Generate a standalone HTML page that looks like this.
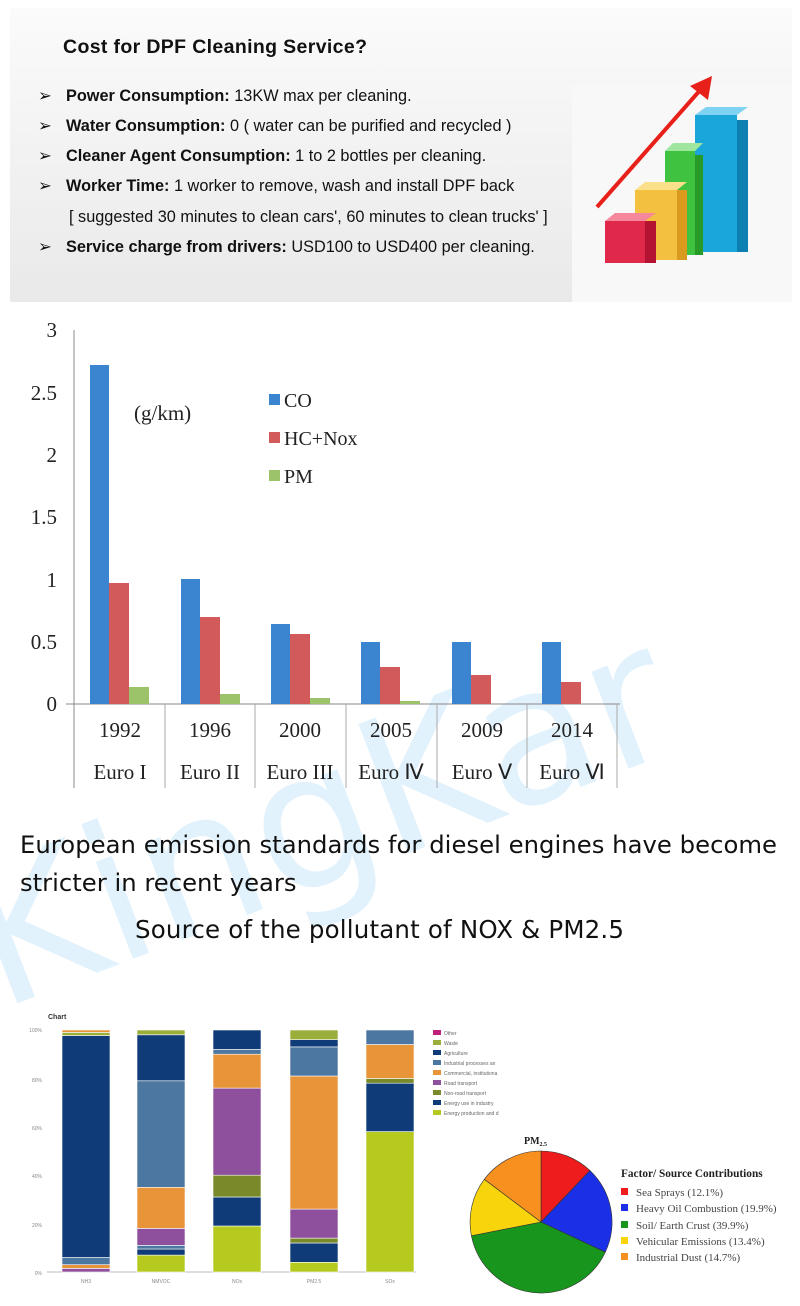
<!DOCTYPE html>
<html><head><meta charset="utf-8"><style>
html,body{margin:0;padding:0;background:#fff;}
svg{display:block;}
.s{font-family:"Liberation Sans",Arial,sans-serif;}
.r{font-family:"Liberation Serif","Times New Roman",serif;}
.d{font-family:"DejaVu Sans",sans-serif;}
</style></head><body>
<svg width="800" height="1306" viewBox="0 0 800 1306" xmlns="http://www.w3.org/2000/svg">
<defs>
<linearGradient id="bg" x1="0" y1="0" x2="0" y2="1"><stop offset="0" stop-color="#fbfbfb"/><stop offset="1" stop-color="#e9e9e9"/></linearGradient>
</defs>
<rect x="0" y="0" width="800" height="1306" fill="#fff"/>
<rect x="10" y="8" width="782" height="294" fill="url(#bg)"/>
<rect x="572" y="85" width="220" height="217" fill="#f8f8f8"/>
<text class="s" x="63" y="53" font-size="19.5" font-weight="bold" fill="#111" textLength="304">Cost for DPF Cleaning Service?</text>
<g class="s" font-size="16.3" fill="#111">
<text x="38" y="101">➢</text><text x="66" y="101"><tspan font-weight="bold">Power Consumption:</tspan> 13KW max per cleaning.</text>
<text x="38" y="131">➢</text><text x="66" y="131"><tspan font-weight="bold">Water Consumption:</tspan>  0 ( water can be purified and recycled )</text>
<text x="38" y="161">➢</text><text x="66" y="161"><tspan font-weight="bold">Cleaner Agent Consumption:</tspan> 1 to 2 bottles per cleaning.</text>
<text x="38" y="191">➢</text><text x="66" y="191"><tspan font-weight="bold">Worker Time:</tspan> 1 worker to remove, wash and install DPF back</text>
<text x="69" y="222">[ suggested 30 minutes to clean cars', 60 minutes to clean trucks' ]</text>
<text x="38" y="252">➢</text><text x="66" y="252"><tspan font-weight="bold">Service charge from drivers:</tspan> USD100 to USD400 per cleaning.</text>
</g>
<g>
<rect x="695" y="115" width="42" height="137" fill="#1aa6d8"/><rect x="737" y="120" width="11" height="132" fill="#0d7fb0"/><polygon points="695,115 706,107 748,107 737,115" fill="#7fd3f2"/>
<rect x="665" y="151" width="30" height="104" fill="#3fc23f"/><rect x="695" y="155" width="8" height="100" fill="#279a27"/><polygon points="665,151 673,143 703,143 695,151" fill="#9fe79f"/>
<rect x="635" y="190" width="42" height="70" fill="#f4c040"/><rect x="677" y="190" width="10" height="70" fill="#d99a1e"/><polygon points="635,190 645,182 687,182 677,190" fill="#fbe08c"/>
<rect x="605" y="221" width="40" height="42" fill="#e0284a"/><rect x="645" y="221" width="11" height="42" fill="#b41432"/><polygon points="605,221 615,213 656,213 645,221" fill="#f5889c"/>
<line x1="597" y1="207" x2="702" y2="88" stroke="#e8201a" stroke-width="4"/>
<polygon points="712,76 708,100 690,86" fill="#e8201a"/>
</g>
<text class="d" x="0" y="1010" font-size="190" fill="#e2f2fc" transform="rotate(-21 0 1010)">KingKar</text>
<g class="r" font-size="21" fill="#222" text-anchor="end">
<text x="57" y="337">3</text><text x="57" y="400">2.5</text><text x="57" y="462">2</text><text x="57" y="524">1.5</text><text x="57" y="587">1</text><text x="57" y="649">0.5</text><text x="57" y="711">0</text>
</g>
<line x1="74" y1="330" x2="74" y2="788" stroke="#888" stroke-width="1"/>
<line x1="66" y1="704" x2="620" y2="704" stroke="#888" stroke-width="1"/>
<g stroke="#aaa" stroke-width="1">
<line x1="165" y1="704" x2="165" y2="788"/><line x1="255" y1="704" x2="255" y2="788"/><line x1="346" y1="704" x2="346" y2="788"/><line x1="437" y1="704" x2="437" y2="788"/><line x1="527" y1="704" x2="527" y2="788"/><line x1="617" y1="704" x2="617" y2="788"/>
</g>
<g>
<rect x="90" y="365" width="19" height="339" fill="#3b84d0"/><rect x="109" y="583" width="20" height="121" fill="#d25a5a"/><rect x="129" y="687" width="20" height="17" fill="#9cc36a"/>
<rect x="181" y="579" width="19" height="125" fill="#3b84d0"/><rect x="200" y="617" width="20" height="87" fill="#d25a5a"/><rect x="220" y="694" width="20" height="10" fill="#9cc36a"/>
<rect x="271" y="624" width="19" height="80" fill="#3b84d0"/><rect x="290" y="634" width="20" height="70" fill="#d25a5a"/><rect x="310" y="698" width="20" height="6" fill="#9cc36a"/>
<rect x="361" y="642" width="19" height="62" fill="#3b84d0"/><rect x="380" y="667" width="20" height="37" fill="#d25a5a"/><rect x="400" y="701" width="20" height="3" fill="#9cc36a"/>
<rect x="452" y="642" width="19" height="62" fill="#3b84d0"/><rect x="471" y="675" width="20" height="29" fill="#d25a5a"/>
<rect x="542" y="642" width="19" height="62" fill="#3b84d0"/><rect x="561" y="682" width="20" height="22" fill="#d25a5a"/>
</g>
<g class="r" font-size="21" fill="#222" text-anchor="middle">
<text x="120" y="737">1992</text><text x="210" y="737">1996</text><text x="300" y="737">2000</text><text x="391" y="737">2005</text><text x="482" y="737">2009</text><text x="572" y="737">2014</text>
<text x="120" y="779">Euro I</text><text x="210" y="779">Euro II</text><text x="300" y="779">Euro III</text><text x="391" y="779">Euro Ⅳ</text><text x="482" y="779">Euro Ⅴ</text><text x="572" y="779">Euro Ⅵ</text>
</g>
<text class="r" x="134" y="420" font-size="21" fill="#222">(g/km)</text>
<rect x="269" y="394" width="11" height="11" fill="#3b84d0"/><text class="r" x="284" y="407" font-size="20" fill="#222">CO</text>
<rect x="269" y="432" width="11" height="11" fill="#d25a5a"/><text class="r" x="284" y="445" font-size="20" fill="#222">HC+Nox</text>
<rect x="269" y="470" width="11" height="11" fill="#9cc36a"/><text class="r" x="284" y="483" font-size="20" fill="#222">PM</text>
<text class="d" x="20" y="853" font-size="24.3" fill="#111" textLength="757">European emission standards for diesel engines have become</text>
<text class="d" x="20" y="891" font-size="24.3" fill="#111">stricter in recent years</text>
<text class="d" x="135" y="938" font-size="24.5" fill="#111" textLength="489">Source of the pollutant of NOX &amp; PM2.5</text>
<text class="s" x="48" y="1019" font-size="7" font-weight="bold" fill="#333">Chart</text>
<g class="s" font-size="5" fill="#888" text-anchor="end">
<text x="42" y="1032">100%</text><text x="42" y="1082">80%</text><text x="42" y="1130">60%</text><text x="42" y="1178">40%</text><text x="42" y="1227">20%</text><text x="42" y="1275">0%</text>
</g>
<line x1="47" y1="1272" x2="416" y2="1272" stroke="#bbb" stroke-width="1"/>
<g stroke="#fff" stroke-width="0.6">
<rect x="62" y="1268.4" width="48" height="3.6" fill="#8e4f9c"/><rect x="62" y="1264.7" width="48" height="3.7" fill="#e8953a"/><rect x="62" y="1257.5" width="48" height="7.2" fill="#4c77a0"/><rect x="62" y="1035.6" width="48" height="221.9" fill="#0f3c78"/><rect x="62" y="1032.4" width="48" height="3.2" fill="#9aae3c"/><rect x="62" y="1030" width="48" height="2.4" fill="#e8953a"/>
<rect x="137" y="1255.1" width="48" height="16.9" fill="#b5c91e"/><rect x="137" y="1249" width="48" height="6.1" fill="#0f3c78"/><rect x="137" y="1245.4" width="48" height="3.6" fill="#4c77a0"/><rect x="137" y="1228.4" width="48" height="17" fill="#8e4f9c"/><rect x="137" y="1187.3" width="48" height="41.1" fill="#e8953a"/><rect x="137" y="1080.8" width="48" height="106.5" fill="#4c77a0"/><rect x="137" y="1034.8" width="48" height="46" fill="#0f3c78"/><rect x="137" y="1030" width="48" height="4.8" fill="#9aae3c"/>
<rect x="213" y="1226" width="48" height="46" fill="#b5c91e"/><rect x="213" y="1197" width="48" height="29" fill="#0f3c78"/><rect x="213" y="1175.2" width="48" height="21.8" fill="#7a8a2a"/><rect x="213" y="1088.1" width="48" height="87.1" fill="#8e4f9c"/><rect x="213" y="1054.2" width="48" height="33.9" fill="#e8953a"/><rect x="213" y="1049.4" width="48" height="4.8" fill="#4c77a0"/><rect x="213" y="1030" width="48" height="19.4" fill="#0f3c78"/>
<rect x="290" y="1262.3" width="48" height="9.7" fill="#b5c91e"/><rect x="290" y="1243" width="48" height="19.3" fill="#0f3c78"/><rect x="290" y="1238.1" width="48" height="4.9" fill="#7a8a2a"/><rect x="290" y="1209.1" width="48" height="29" fill="#8e4f9c"/><rect x="290" y="1076" width="48" height="133.1" fill="#e8953a"/><rect x="290" y="1046.9" width="48" height="29.1" fill="#4c77a0"/><rect x="290" y="1039.7" width="48" height="7.2" fill="#0f3c78"/><rect x="290" y="1030" width="48" height="9.7" fill="#9aae3c"/>
<rect x="366" y="1131.6" width="48" height="140.4" fill="#b5c91e"/><rect x="366" y="1083.2" width="48" height="48.4" fill="#0f3c78"/><rect x="366" y="1078.4" width="48" height="4.8" fill="#7a8a2a"/><rect x="366" y="1044.5" width="48" height="33.9" fill="#e8953a"/><rect x="366" y="1030" width="48" height="14.5" fill="#4c77a0"/>
</g>
<g class="s" font-size="5" fill="#888" text-anchor="middle">
<text x="86" y="1283">NH3</text><text x="161" y="1283">NMVOC</text><text x="237" y="1283">NOx</text><text x="314" y="1283">PM2.5</text><text x="390" y="1283">SOx</text>
</g>
<g class="s" font-size="5" fill="#666">
<rect x="433" y="1030" width="8" height="5" fill="#c0207a"/><text x="444" y="1035">Other</text>
<rect x="433" y="1040" width="8" height="5" fill="#9aae3c"/><text x="444" y="1045">Waste</text>
<rect x="433" y="1050" width="8" height="5" fill="#0f3c78"/><text x="444" y="1055">Agriculture</text>
<rect x="433" y="1060" width="8" height="5" fill="#4c77a0"/><text x="444" y="1065">Industrial processes an</text>
<rect x="433" y="1070" width="8" height="5" fill="#e8953a"/><text x="444" y="1075">Commercial, institutiona</text>
<rect x="433" y="1080" width="8" height="5" fill="#8e4f9c"/><text x="444" y="1085">Road transport</text>
<rect x="433" y="1090" width="8" height="5" fill="#7a8a2a"/><text x="444" y="1095">Non-road transport</text>
<rect x="433" y="1100" width="8" height="5" fill="#0f3c78"/><text x="444" y="1105">Energy use in industry</text>
<rect x="433" y="1110" width="8" height="5" fill="#b5c91e"/><text x="444" y="1115">Energy production and d</text>
</g>
<text class="r" x="524" y="1144" font-size="10" font-weight="bold" fill="#222">PM<tspan font-size="6" dy="2">2.5</tspan></text>
<g stroke="#333" stroke-width="0.6">
<path d="M541,1222 L541,1151 A71,71 0 0 1 589.9,1170.5 Z" fill="#ee1c1c"/>
<path d="M541,1222 L589.9,1170.5 A71,71 0 0 1 605.3,1252.2 Z" fill="#1a2fe6"/>
<path d="M541,1222 L605.3,1252.2 A71,71 0 0 1 471.4,1235.8 Z" fill="#18951c"/>
<path d="M541,1222 L471.4,1235.8 A71,71 0 0 1 484.3,1179.3 Z" fill="#f8d40c"/>
<path d="M541,1222 L484.3,1179.3 A71,71 0 0 1 541,1151 Z" fill="#f7901e"/>
</g>
<text class="r" x="621" y="1177" font-size="11.3" font-weight="bold" fill="#222">Factor/ Source Contributions</text>
<g class="r" font-size="11" fill="#444">
<rect x="621" y="1188" width="7" height="7" fill="#ee1c1c"/><text x="636" y="1196">Sea Sprays (12.1%)</text>
<rect x="621" y="1204" width="7" height="7" fill="#1a2fe6"/><text x="636" y="1212">Heavy Oil Combustion (19.9%)</text>
<rect x="621" y="1221" width="7" height="7" fill="#18951c"/><text x="636" y="1229">Soil/ Earth Crust (39.9%)</text>
<rect x="621" y="1237" width="7" height="7" fill="#f8d40c"/><text x="636" y="1245">Vehicular Emissions (13.4%)</text>
<rect x="621" y="1253" width="7" height="7" fill="#f7901e"/><text x="636" y="1261">Industrial Dust (14.7%)</text>
</g>
</svg>
</body></html>
